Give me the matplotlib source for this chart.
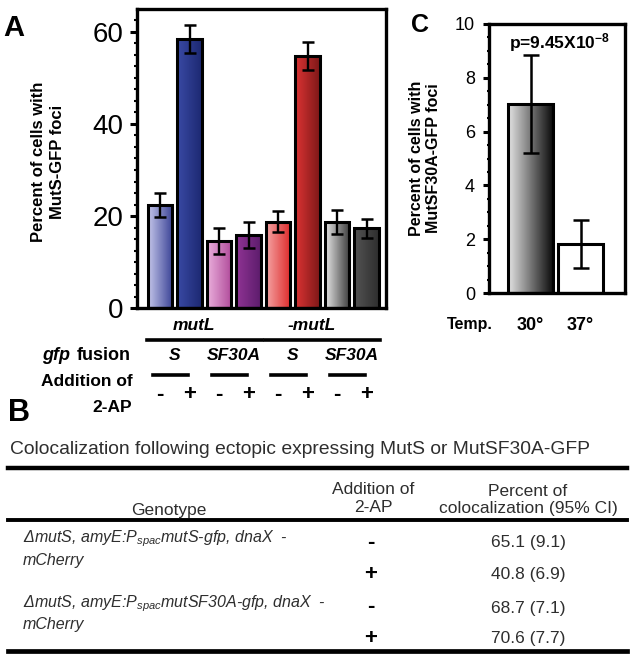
import numpy as np
import matplotlib
matplotlib.use("Agg")
import matplotlib.pyplot as plt
from matplotlib.colors import LinearSegmentedColormap
from matplotlib.transforms import blended_transform_factory
from matplotlib.lines import Line2D

plt.rcParams['font.family'] = ['Liberation Sans', 'DejaVu Sans']
plt.rcParams['mathtext.fontset'] = 'custom'
plt.rcParams['mathtext.rm'] = 'Liberation Sans'
plt.rcParams['mathtext.it'] = 'Liberation Sans:italic'
plt.rcParams['mathtext.bf'] = 'Liberation Sans:bold'

# Panel A data
a_vals = [22.3, 58.5, 14.6, 15.9, 18.8, 54.8, 18.7, 17.3]
a_errs = [2.6, 3.0, 2.8, 2.8, 2.2, 3.0, 2.7, 2.0]
a_groups = ["mutL", "-mutL"]
a_fusion = ["S", "SF30A", "S", "SF30A"]
a_2ap = ["-", "+", "-", "+", "-", "+", "-", "+"]
a_colors = [("#c4c6ea", "#3a4296"), ("#3a4aa4", "#1c2872"),
            ("#eab0dc", "#b04a9a"), ("#903494", "#5c1c6c"),
            ("#f4a4a4", "#de2a2a"), ("#dc3434", "#7e1818"),
            ("#e6e6e6", "#3c3c3c"), ("#545454", "#2e2e2e")]

# Panel C data
c_labels = ["30°", "37°"]
c_vals = [7.03, 1.82]
c_errs = [1.83, 0.88]
c_colors = [("#e4e4e4", "#0c0c0c"), ("#ffffff", "#ffffff")]

# Panel B table
b_title = "Colocalization following ectopic expressing MutS or MutSF30A-GFP"
b_genotypes = [r"ΔmutS, amyE:P$_{spac}$mutS-gfp, dnaX  -",
               r"ΔmutS, amyE:P$_{spac}$mutSF30A-gfp, dnaX  -"]
b_2ap = ["-", "+", "-", "+"]
b_values = ["65.1 (9.1)", "40.8 (6.9)", "68.7 (7.1)", "70.6 (7.7)"]

W, H = 635, 660
fig = plt.figure(figsize=(W / 100, H / 100), dpi=100)


def fy(y):
    return 1 - y / H


def fx(x):
    return x / W


def grad_bars(ax, x, vals, width, colors):
    bars = ax.bar(x, vals, width=width, facecolor='none', edgecolor='black',
                  linewidth=2.2, zorder=3)
    for b, (c1, c2) in zip(bars, colors):
        x0, y0 = b.get_xy()
        cm = LinearSegmentedColormap.from_list('g', [c1, c2])
        im = ax.imshow(np.linspace(0, 1, 128)[None, :], cmap=cm, aspect='auto',
                       extent=[x0, x0 + b.get_width(), y0, y0 + b.get_height()],
                       zorder=2)
        im.set_clip_path(b)
    return bars


# ---------------- Panel A ----------------
axA = fig.add_axes([fx(137), fy(308), fx(249), 299 / H])
xa = np.arange(len(a_vals))
grad_bars(axA, xa, a_vals, 0.84, a_colors)
axA.errorbar(xa, a_vals, yerr=a_errs, fmt='none', ecolor='black',
             elinewidth=1.7, capsize=4, capthick=1.8, zorder=4)
axA.set_xlim(-0.78, 7.66)
axA.set_ylim(0, 65)
axA.set_yticks([0, 20, 40, 60])
axA.set_yticks(np.arange(0, 65, 2.5), minor=True)
axA.tick_params(axis='y', which='major', labelsize=20, length=5, width=2.2, pad=5)
axA.tick_params(axis='y', which='minor', length=2, width=1.5)
axA.set_xticks([])
for s in axA.spines.values():
    s.set_linewidth(2.4)

fig.text(fx(48), fy(162), "Percent of cells with\nMutS-GFP foci", rotation=90,
         ha='center', va='center', fontsize=12, fontweight='bold',
         multialignment='center', linespacing=1.3)
fig.text(fx(3), fy(28), "A", fontsize=21, fontweight='bold', va='center')

tA = blended_transform_factory(axA.transData, fig.transFigure)
# group labels and lines
for g, name in enumerate(a_groups):
    idx = xa[4 * g:4 * g + 4]
    axA.text(idx.mean() - 0.35, fy(325), name, transform=tA, ha='center',
             va='center', fontsize=12.5, fontweight='bold', fontstyle='italic')
    fig.add_artist(Line2D([idx[0] - 0.44, idx[-1] + 0.44], [fy(340), fy(340)],
                          transform=tA, color='black', lw=2.6))
for p, name in enumerate(a_fusion):
    cx = xa[2 * p:2 * p + 2].mean()
    axA.text(cx, fy(356), name, transform=tA, ha='center', va='center',
             fontsize=12.5, fontweight='bold', fontstyle='italic')
    fig.add_artist(Line2D([cx - 0.75, cx + 0.45], [fy(375), fy(375)],
                          transform=tA, color='black', lw=2.6))
for xi, s in zip(xa, a_2ap):
    axA.text(xi, fy(394), s, transform=tA, ha='center', va='center',
             fontsize=16, fontweight='bold')

fig.text(fx(131), fy(356), "fusion", ha='right', va='center', fontsize=13,
         fontweight='bold')
fig.text(fx(70), fy(356), "gfp", ha='right', va='center', fontsize=13,
         fontweight='bold', fontstyle='italic')
fig.text(fx(133), fy(382), "Addition of", ha='right', va='center', fontsize=12.5,
         fontweight='bold')
fig.text(fx(132), fy(407), "2-AP", ha='right', va='center', fontsize=12.5,
         fontweight='bold')

# ---------------- Panel C ----------------
axC = fig.add_axes([fx(489), fy(293), fx(136), 269 / H])
xc = np.arange(len(c_vals))
grad_bars(axC, xc, c_vals, 0.9, c_colors)
axC.errorbar(xc, c_vals, yerr=c_errs, fmt='none', ecolor='black',
             elinewidth=1.8, capsize=5.5, capthick=1.8, zorder=4)
axC.set_xlim(-0.83, 1.89)
axC.set_ylim(0, 10)
axC.set_yticks(np.arange(0, 11, 2))
axC.set_yticks(np.arange(0, 10.1, 0.5), minor=True)
axC.tick_params(axis='y', which='major', labelsize=13, length=4, width=2.2, pad=6)
axC.tick_params(axis='y', which='minor', length=1.5, width=1.5)
axC.set_xticks([])
for s in axC.spines.values():
    s.set_linewidth(2.4)
axC.text(0.52, 9.3, r"p=9.45X10$^{\mathbf{-8}}$", transform=
         blended_transform_factory(axC.transAxes, axC.transData),
         ha='center', va='center', fontsize=12.5, fontweight='bold')

tC = blended_transform_factory(axC.transData, fig.transFigure)
for xi, lab in zip(xc, c_labels):
    axC.text(xi, fy(325), lab, transform=tC, ha='center', va='center',
             fontsize=13, fontweight='bold')
fig.text(fx(470), fy(325), "Temp.", ha='center', va='center', fontsize=11.5,
         fontweight='bold')
fig.text(fx(425), fy(158), "Percent of cells with\nMutSF30A-GFP foci", rotation=90,
         ha='center', va='center', fontsize=11.5, fontweight='bold',
         multialignment='center', linespacing=1.1)
fig.text(fx(411), fy(25), "C", fontsize=18, fontweight='bold', va='center')

# ---------------- Panel B ----------------
grey = '#2e2e2e'
fig.text(fx(8), fy(413), "B", fontsize=22, fontweight='bold', va='center')
fig.text(fx(10), fy(450), b_title, fontsize=13.9, va='center', color=grey)
for y, lw in [(468, 3.2), (520, 2.8), (651, 3.4)]:
    fig.add_artist(Line2D([fx(8), fx(627)], [fy(y), fy(y)], color='black', lw=lw))

fig.text(fx(169), fy(510), "Genotype", ha='center', va='center', fontsize=12.5, color=grey)
fig.text(fx(373), fy(498), "Addition of\n2-AP", ha='center', va='center',
         fontsize=12.5, color=grey, linespacing=1.25)
fig.text(fx(528), fy(500), "Percent of\ncolocalization (95% CI)", ha='center',
         va='center', fontsize=12.5, color=grey, linespacing=1.25)

row_y = [542, 574, 607, 638]
for g, geno in enumerate(b_genotypes):
    fig.text(fx(23), fy(row_y[2 * g] - 3), geno, ha='left', va='center',
             fontsize=11.5, fontstyle='italic', color=grey)
    fig.text(fx(23), fy(row_y[2 * g] + 18), "mCherry", ha='left', va='center',
             fontsize=11.5, fontstyle='italic', color=grey)
for y, s, v in zip(row_y, b_2ap, b_values):
    fig.text(fx(371), fy(y), s, ha='center', va='center', fontsize=16,
             fontweight='bold', color='black')
    fig.text(fx(528), fy(y + 1), v, ha='center', va='center', fontsize=12.5, color=grey)

fig.savefig("out.png", dpi=100)
